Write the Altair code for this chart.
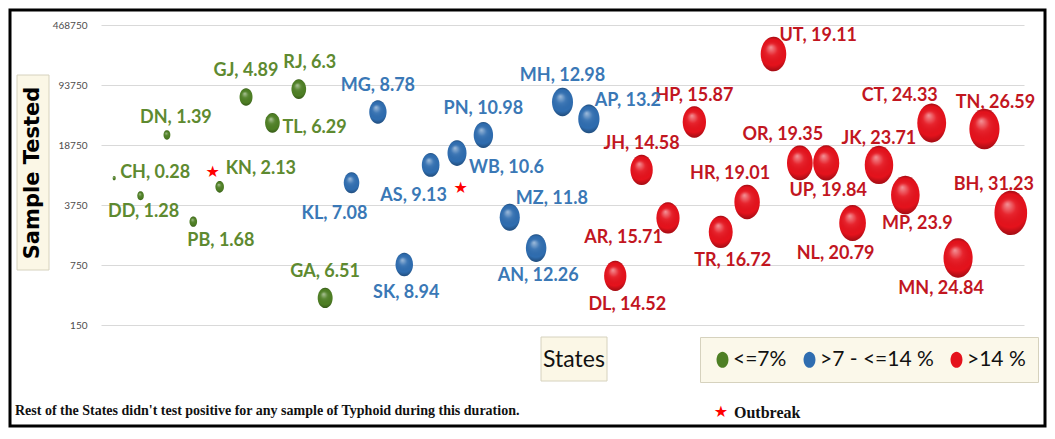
import altair as alt
import pandas as pd

# ---------------- data ----------------
states = ["CH", "DD", "DN", "PB", "KN", "GJ", "TL", "RJ", "GA", "KL", "MG", "SK",
          "AS", "WB", "PN", "MZ", "AN", "MH", "AP", "DL", "JH", "AR", "HP", "TR",
          "HR", "UT", "OR", "UP", "NL", "JK", "MP", "CT", "MN", "TN", "BH"]
positivity = [0.28, 1.28, 1.39, 1.68, 2.13, 4.89, 6.29, 6.3, 6.51, 7.08, 8.78, 8.94,
              9.13, 10.6, 10.98, 11.8, 12.26, 12.98, 13.2, 14.52, 14.58, 15.71, 15.87, 16.72,
              19.01, 19.11, 19.35, 19.84, 20.79, 23.71, 23.9, 24.33, 24.84, 26.59, 31.23]
samples_tested = [7700, 4800, 24500, 2400, 6100, 68000, 34000, 84000, 310, 6800, 45500, 760,
                  11000, 15100, 24500, 2700, 1180, 59400, 37700, 560, 9600, 2650, 34800, 1820,
                  4060, 215000, 11600, 11600, 2310, 11000, 4900, 33800, 905, 28800, 3030]
# Excel-like data-label position of each bubble
label_pos = ["r", "b_s", "tr_s", "rb2", "rt", "t", "r2", "tr", "t", "bl", "t", "b",
             "bl", "rb", "t", "rt", "b", "t", "rt", "br", "t", "lb", "t", "br",
             "tl", "rt", "tl", "b", "bl", "t", "br", "tl2", "bl", "tr", "tl"]
outbreak = {"KN": "before", "AS": "after"}
groups = ["<=7%", ">7 - <=14 %", ">14 %"]
y_ticks = [150, 750, 3750, 18750, 93750, 468750]

# ---------------- styles ----------------
bubble_colors = ["#4E7F24", "#2F6DB0", "#E5121C"]
text_colors = ["#5E8A30", "#3A78B6", "#C2161F"]
LABEL_FONT = "Lato"
# slightly tall bubble outline (the reference's bubbles are upright ellipses)
BUBBLE = "M0,-1A0.74,1,0,1,1,0,1A0.74,1,0,1,1,0,-1Z"

# (align, dx, dy) for each label position class
pos_style = {
    "t": ("center", 0, -26), "tl": ("center", -17, -28), "tl2": ("center", -32, -27),
    "tr": ("center", 11, -26), "tr_s": ("center", 9, -17), "rt": ("left", 6, -18),
    "r": ("left", 6, -5), "r2": ("left", 10, 5), "b": ("center", 2, 28),
    "b_s": ("center", 3, 16), "bl": ("center", -17, 31), "br": ("center", 12, 29),
    "lb": ("right", -5, 20), "rb": ("left", 12, 15), "rb2": ("left", -6, 19),
}
star_style = {"before": (-7, -15), "after": (30, 23)}


def group_of(r):
    if r <= 7:
        return groups[0]
    if r <= 14:
        return groups[1]
    return groups[2]


df = pd.DataFrame({
    "state": states,
    "rate": positivity,
    "samples": samples_tested,
    "pos": label_pos,
})
df["grp"] = [group_of(r) for r in positivity]
df["label"] = [f"{s}, {r:g}" for s, r in zip(states, positivity)]
df["star"] = [outbreak.get(s, "") for s in states]

W, H = 945, 300

x_enc = alt.X("state:N", sort=states, scale=alt.Scale(type="point", range=[4, 927]), axis=None)
y_enc = alt.Y("samples:Q",
              scale=alt.Scale(type="log", domain=[150, 468750], nice=False),
              axis=alt.Axis(values=y_ticks, format="d", grid=True, gridColor="#D9D9D9",
                            gridWidth=1, domain=False, ticks=False, labelFont=LABEL_FONT,
                            labelFontSize=10, labelColor="#4D4D4D", labelPadding=10,
                            title=None))
size_enc = alt.Size("rate:Q", scale=alt.Scale(domain=[0, 31.23], range=[0, 1950]), legend=None)

base = alt.Chart(df)

bubbles = base.mark_point(shape=BUBBLE, filled=True, opacity=1, strokeWidth=0).encode(
    x=x_enc, y=y_enc, size=size_enc,
    color=alt.Color("grp:N", scale=alt.Scale(domain=groups, range=bubble_colors),
                    legend=alt.Legend(orient="none", legendX=603, legendY=312,
                                      direction="horizontal", title=None,
                                      fillColor="#FBF8EA", strokeColor="#D6D2BE",
                                      padding=12, labelFont=LABEL_FONT, labelFontSize=21,
                                      labelColor="#111111", symbolType=BUBBLE,
                                      symbolSize=260, symbolStrokeWidth=0,
                                      symbolOpacity=1, labelOffset=0, columnPadding=12)),
)

shade = base.mark_point(
    shape=BUBBLE, filled=True, opacity=1, strokeWidth=0,
    fill={"gradient": "radial",
          "stops": [{"offset": 0, "color": "rgba(255,255,255,0.55)"},
                    {"offset": 0.35, "color": "rgba(255,255,255,0.08)"},
                    {"offset": 0.75, "color": "rgba(0,0,0,0.0)"},
                    {"offset": 1, "color": "rgba(0,0,0,0.3)"}],
          "x1": 0.42, "y1": 0.3, "r1": 0, "x2": 0.5, "y2": 0.5, "r2": 0.5},
).encode(x=x_enc, y=y_enc, size=size_enc)

label_layers = []
for key, (align, dx, dy) in pos_style.items():
    label_layers.append(
        base.transform_filter(alt.datum.pos == key).mark_text(
            align=align, baseline="middle", dx=dx, dy=dy, font=LABEL_FONT,
            fontSize=18, fontWeight="bold",
        ).encode(
            x=x_enc, y=y_enc, text="label:N",
            color=alt.Color("grp:N", scale=alt.Scale(domain=groups, range=text_colors),
                            legend=None),
        )
    )

star_layers = []
for key, (dx, dy) in star_style.items():
    star_layers.append(
        base.transform_filter(alt.datum.star == key).mark_text(
            text="★", font="DejaVu Sans", fontSize=16, color="#FF0000",
            dx=dx, dy=dy, align="center", baseline="middle",
        ).encode(x=x_enc, y=y_enc)
    )

deco = alt.Chart(pd.DataFrame({"d": [0]}))

frame = deco.mark_rect(fill="white", fillOpacity=0, stroke="#000000", strokeWidth=3).encode(
    x=alt.value(-87), x2=alt.value(948), y=alt.value(-15), y2=alt.value(401))

ybox = deco.mark_rect(fill="#FBF7E6", stroke="#D6D2BE", strokeWidth=1).encode(
    x=alt.value(-80), x2=alt.value(-48), y=alt.value(50), y2=alt.value(245))
ytitle = deco.mark_text(text="Sample Tested", angle=270, font="DejaVu Sans", fontSize=21,
                        fontWeight="bold", color="#000000", align="center",
                        baseline="middle").encode(x=alt.value(-64), y=alt.value(148))

xbox = deco.mark_rect(fill="#FBF7E6", stroke="#D6D2BE", strokeWidth=1).encode(
    x=alt.value(444), x2=alt.value(510), y=alt.value(312), y2=alt.value(356))
xtitle = deco.mark_text(text="States", font=LABEL_FONT, fontSize=23, color="#111111",
                        align="center", baseline="middle").encode(
    x=alt.value(477), y=alt.value(335))

note = deco.mark_text(
    text="Rest of the States didn't  test positive for any sample of Typhoid  during  this duration.",
    font="Liberation Serif", fontSize=14, fontWeight="bold", color="#111111",
    align="left", baseline="middle").encode(x=alt.value(-82), y=alt.value(386))

ostar = deco.mark_text(text="★", font="DejaVu Sans", fontSize=16, color="#FF0000",
                       align="center", baseline="middle").encode(
    x=alt.value(624), y=alt.value(387))
otext = deco.mark_text(text="Outbreak", font="Liberation Serif", fontSize=16,
                       fontWeight="bold", color="#111111", align="left",
                       baseline="middle").encode(x=alt.value(637), y=alt.value(388))

chart = alt.layer(
    frame, ybox, ytitle, xbox, xtitle, note, ostar, otext,
    bubbles, shade, *label_layers, *star_layers,
).resolve_scale(color="independent").properties(
    width=W, height=H,
    autosize=alt.AutoSizeParams(type="none"),
    padding={"left": 89, "top": 17, "right": 5, "bottom": 103},
).configure_view(strokeWidth=0)

chart.save("out.html", embed_options={"renderer": "svg", "actions": False})
